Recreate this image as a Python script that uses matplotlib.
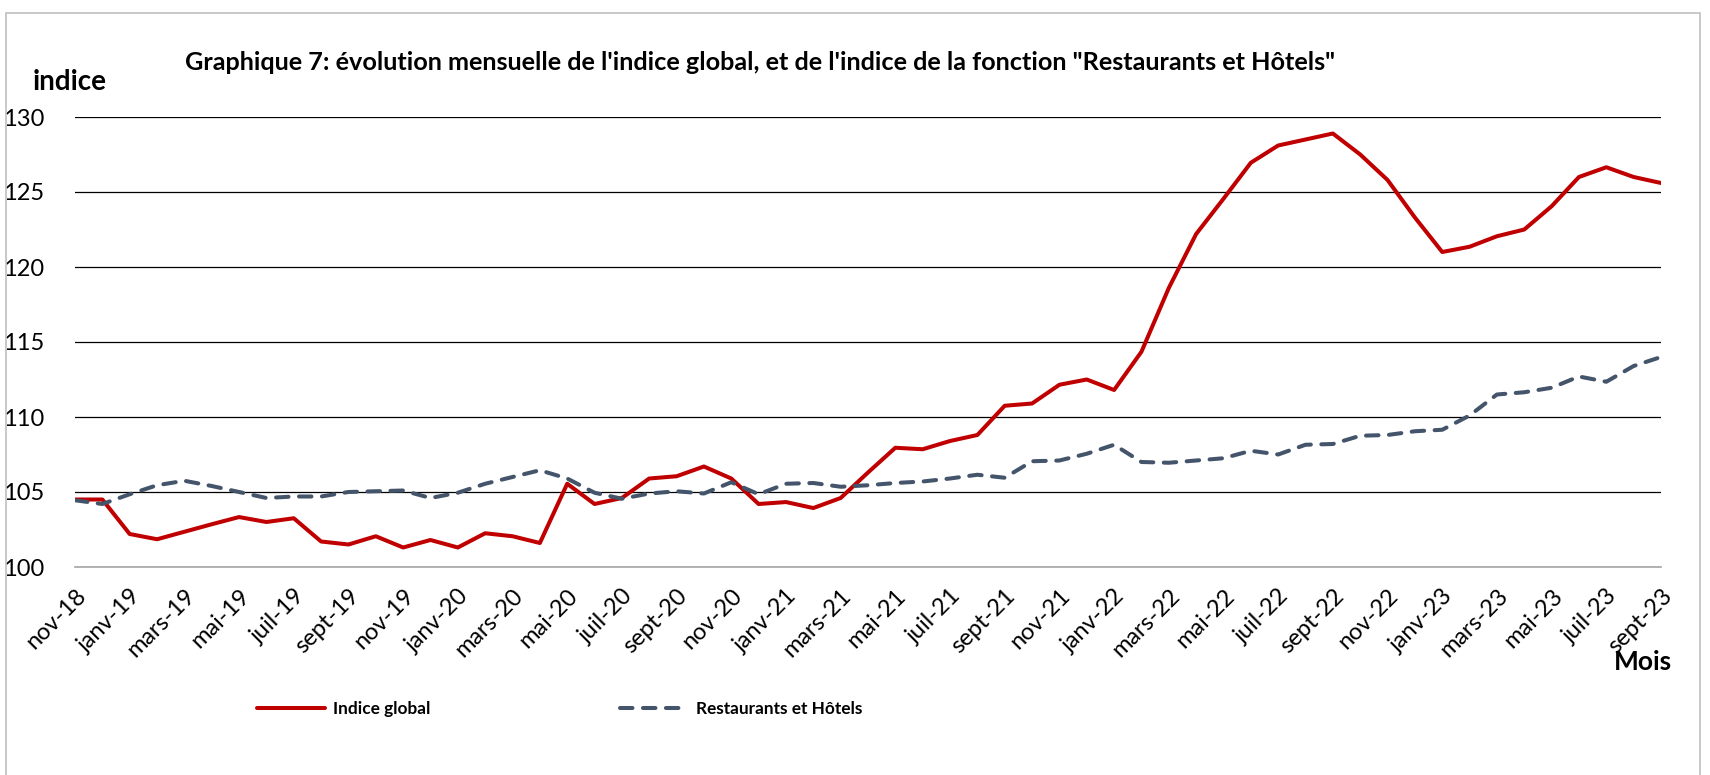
import numpy as np
import matplotlib
matplotlib.use("Agg")
import matplotlib.pyplot as plt
from matplotlib.patches import Rectangle

plt.rcParams['font.family'] = ['Lato', 'DejaVu Sans']

# mois de nov-18 a sept-23
noms = ['janv', 'févr', 'mars', 'avr', 'mai', 'juin',
        'juil', 'août', 'sept', 'oct', 'nov', 'déc']
mois = [f"{noms[(10 + k) % 12]}-{18 + (10 + k) // 12}" for k in range(59)]

indice_global = [104.5, 104.5, 102.2, 101.85, 102.35, 102.85, 103.33, 103.0, 103.25, 101.7,
                 101.5, 102.05, 101.3, 101.8, 101.3, 102.25, 102.05, 101.6, 105.55, 104.2,
                 104.6, 105.9, 106.05, 106.7, 105.9, 104.2, 104.33, 103.93, 104.6, 106.3,
                 107.95, 107.85, 108.4, 108.8, 110.75, 110.9, 112.15, 112.5, 111.8, 114.35,
                 118.6, 122.2, 124.55, 126.95, 128.1, 128.5, 128.9, 127.5, 125.8, 123.3,
                 121.0, 121.35, 122.05, 122.5, 124.05, 126.0, 126.65, 126.0, 125.6]

restaurants_hotels = [104.45, 104.2, 104.85, 105.45, 105.75, 105.4, 105.0, 104.6, 104.7, 104.7,
                      105.0, 105.05, 105.1, 104.6, 104.95, 105.55, 106.0, 106.45, 105.9, 104.95,
                      104.55, 104.9, 105.05, 104.9, 105.65, 104.85, 105.55, 105.6, 105.35, 105.45,
                      105.6, 105.7, 105.9, 106.15, 105.95, 107.05, 107.1, 107.55, 108.15, 107.0,
                      106.95, 107.1, 107.25, 107.75, 107.5, 108.15, 108.2, 108.75, 108.8, 109.05,
                      109.15, 110.1, 111.5, 111.65, 111.95, 112.7, 112.35, 113.4, 114.0]

y_ticks = [100, 105, 110, 115, 120, 125, 130]

rouge = '#C00000'
gris_bleu = '#44546A'

fig = plt.figure(figsize=(17.1, 7.75), dpi=100)
ax = fig.add_axes([75 / 1710, 1 - 567 / 775, (1661 - 75) / 1710, 450 / 775])

x = np.arange(len(mois))
l1, = ax.plot(x, indice_global, color=rouge, lw=2.9, solid_capstyle='round',
              solid_joinstyle='round', zorder=3, label='Indice global')
l2, = ax.plot(x, restaurants_hotels, color=gris_bleu, lw=2.9, dashes=(3.1, 2.6),
              dash_capstyle='round', zorder=3, label='Restaurants et Hôtels')

ax.set_xlim(0, len(mois) - 1)
ax.set_ylim(100, 130)
ax.set_yticks(y_ticks)
ax.yaxis.grid(True, color='black', lw=0.9, zorder=0)
ax.set_axisbelow(True)
for s in ['top', 'right', 'left']:
    ax.spines[s].set_visible(False)
ax.spines['bottom'].set_color('#A6A6A6')
ax.spines['bottom'].set_linewidth(1.2)
ax.spines['bottom'].set_zorder(1)
ax.tick_params(axis='y', length=0, pad=22, labelsize=17)
ax.tick_params(axis='x', length=0, pad=13, labelsize=17)
ax.set_xticks(x[::2])
ax.set_xticklabels(mois[::2], rotation=45, ha='right', rotation_mode='anchor')

fig.text(760 / 1710, 1 - 62 / 775,
         'Graphique 7: évolution mensuelle de l\'indice global, et de l\'indice de la fonction "Restaurants et Hôtels"',
         ha='center', va='center', fontsize=18.2, fontweight='bold')
fig.text(33 / 1710, 1 - 82 / 775, 'indice', ha='left', va='center', fontsize=20, fontweight='bold')
fig.text(1614 / 1710, 1 - 662 / 775, 'Mois', ha='left', va='center', fontsize=19, fontweight='bold')

fig.legend(handles=[l1, l2], loc='center left', bbox_to_anchor=(257 / 1710, 1 - 709 / 775),
           ncol=2, frameon=False, prop={'weight': 'bold', 'size': 12.4},
           handlelength=3.95, handletextpad=0.47, columnspacing=11.0,
           borderpad=0, borderaxespad=0)

fig.patches.append(Rectangle((6 / 1710, -0.01), (1700 - 6) / 1710, 1 - 13 / 775 + 0.01,
                             transform=fig.transFigure, fill=False, edgecolor='#BFBFBF', lw=1.2))

fig.savefig('out.png', dpi=100)
